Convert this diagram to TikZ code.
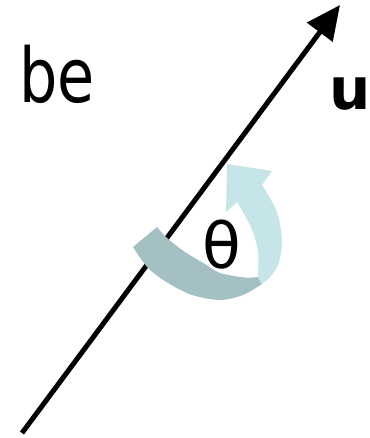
\documentclass[tikz,border=0pt]{standalone}
\usepackage{fontspec}
\setmainfont{DejaVu Sans}
\newfontfamily\narrowfont[FakeStretch=0.8]{DejaVu Sans}
\usetikzlibrary{arrows.meta}
\definecolor{bandgray}{RGB}{165,192,195}
\definecolor{bandcyan}{RGB}{197,229,233}
\tikzset{
  bigtext/.style={inner sep=0pt,anchor=base west},
}
\begin{document}
\begin{tikzpicture}[x=0.02cm,y=-0.02cm]
\useasboundingbox(0,0)rectangle(369,438);
\coordinate(uStart)at(22,433);
\coordinate(uEnd)at(340,5);
\draw[-{Triangle[length=0.68cm,width=0.62cm]},line width=0.1cm](uStart)--(uEnd);
% turning band
\fill[color=bandgray]plot[smooth]coordinates
  {(133,247)(148,268)(168,283)(192,295)(220,300)(243,295)(262,284)}
  --(258,277)--plot[smooth]coordinates
  {(258,277)(245,277.5)(220,273)(205,264)(185,252)(167,238)(157,227)}--cycle;
\fill[color=bandcyan]plot[smooth]coordinates
  {(262,284)(270,277)(278,265)(282,242)(277,212)(262,185)}
  --(272,171)--(227,164)--(226,212)--(237,202)
  --plot[smooth]coordinates{(237,202)(243,212)(253,232)(258,252)(258,277)}--cycle;
\node[bigtext,font=\narrowfont\fontsize{43}{50}\selectfont](be)at(19,103){be};
\node[bigtext,font=\fontsize{36}{42}\selectfont](theta)at(202,268){θ};
\node[bigtext,font=\fontsize{33}{40}\selectfont\bfseries](u)at(329,110){u};
\end{tikzpicture}
\end{document}
